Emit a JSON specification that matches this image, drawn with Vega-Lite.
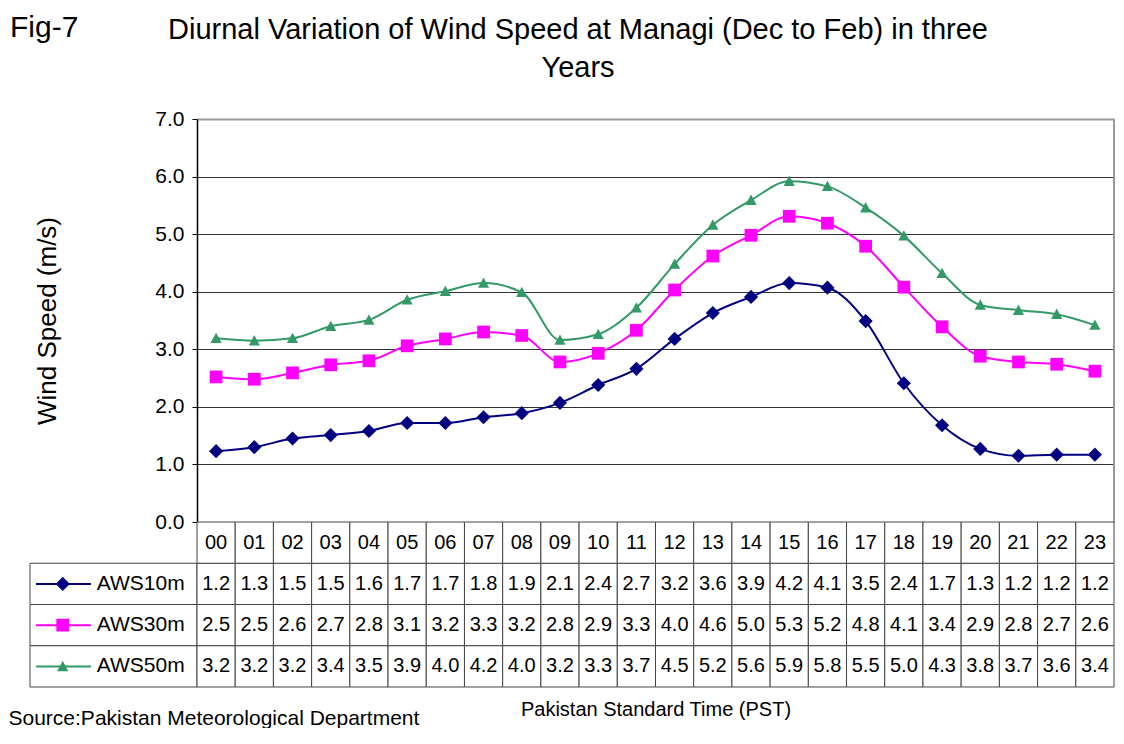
{
  "$schema": "https://vega.github.io/schema/vega-lite/v6.json",
  "padding": {"left": 8, "top": 13, "right": 0, "bottom": 0},
  "config": {
    "font": "Liberation Sans",
    "view": {"stroke": null},
    "axisX": {"domain": false, "ticks": false, "labels": false, "grid": false},
    "title": {"color": "#000", "fontWeight": "normal"}
  },
  "datasets": {
    "d": [
      {"hour": "00", "series": "AWS10m", "v": 1.23, "t": "1.2"},
      {"hour": "01", "series": "AWS10m", "v": 1.30, "t": "1.3"},
      {"hour": "02", "series": "AWS10m", "v": 1.45, "t": "1.5"},
      {"hour": "03", "series": "AWS10m", "v": 1.51, "t": "1.5"},
      {"hour": "04", "series": "AWS10m", "v": 1.58, "t": "1.6"},
      {"hour": "05", "series": "AWS10m", "v": 1.72, "t": "1.7"},
      {"hour": "06", "series": "AWS10m", "v": 1.72, "t": "1.7"},
      {"hour": "07", "series": "AWS10m", "v": 1.82, "t": "1.8"},
      {"hour": "08", "series": "AWS10m", "v": 1.89, "t": "1.9"},
      {"hour": "09", "series": "AWS10m", "v": 2.07, "t": "2.1"},
      {"hour": "10", "series": "AWS10m", "v": 2.38, "t": "2.4"},
      {"hour": "11", "series": "AWS10m", "v": 2.66, "t": "2.7"},
      {"hour": "12", "series": "AWS10m", "v": 3.18, "t": "3.2"},
      {"hour": "13", "series": "AWS10m", "v": 3.63, "t": "3.6"},
      {"hour": "14", "series": "AWS10m", "v": 3.91, "t": "3.9"},
      {"hour": "15", "series": "AWS10m", "v": 4.15, "t": "4.2"},
      {"hour": "16", "series": "AWS10m", "v": 4.07, "t": "4.1"},
      {"hour": "17", "series": "AWS10m", "v": 3.49, "t": "3.5"},
      {"hour": "18", "series": "AWS10m", "v": 2.41, "t": "2.4"},
      {"hour": "19", "series": "AWS10m", "v": 1.68, "t": "1.7"},
      {"hour": "20", "series": "AWS10m", "v": 1.27, "t": "1.3"},
      {"hour": "21", "series": "AWS10m", "v": 1.15, "t": "1.2"},
      {"hour": "22", "series": "AWS10m", "v": 1.17, "t": "1.2"},
      {"hour": "23", "series": "AWS10m", "v": 1.17, "t": "1.2"},
      {"hour": "00", "series": "AWS30m", "v": 2.52, "t": "2.5"},
      {"hour": "01", "series": "AWS30m", "v": 2.48, "t": "2.5"},
      {"hour": "02", "series": "AWS30m", "v": 2.59, "t": "2.6"},
      {"hour": "03", "series": "AWS30m", "v": 2.73, "t": "2.7"},
      {"hour": "04", "series": "AWS30m", "v": 2.80, "t": "2.8"},
      {"hour": "05", "series": "AWS30m", "v": 3.06, "t": "3.1"},
      {"hour": "06", "series": "AWS30m", "v": 3.18, "t": "3.2"},
      {"hour": "07", "series": "AWS30m", "v": 3.30, "t": "3.3"},
      {"hour": "08", "series": "AWS30m", "v": 3.24, "t": "3.2"},
      {"hour": "09", "series": "AWS30m", "v": 2.78, "t": "2.8"},
      {"hour": "10", "series": "AWS30m", "v": 2.93, "t": "2.9"},
      {"hour": "11", "series": "AWS30m", "v": 3.33, "t": "3.3"},
      {"hour": "12", "series": "AWS30m", "v": 4.03, "t": "4.0"},
      {"hour": "13", "series": "AWS30m", "v": 4.62, "t": "4.6"},
      {"hour": "14", "series": "AWS30m", "v": 4.98, "t": "5.0"},
      {"hour": "15", "series": "AWS30m", "v": 5.31, "t": "5.3"},
      {"hour": "16", "series": "AWS30m", "v": 5.19, "t": "5.2"},
      {"hour": "17", "series": "AWS30m", "v": 4.79, "t": "4.8"},
      {"hour": "18", "series": "AWS30m", "v": 4.08, "t": "4.1"},
      {"hour": "19", "series": "AWS30m", "v": 3.39, "t": "3.4"},
      {"hour": "20", "series": "AWS30m", "v": 2.88, "t": "2.9"},
      {"hour": "21", "series": "AWS30m", "v": 2.78, "t": "2.8"},
      {"hour": "22", "series": "AWS30m", "v": 2.74, "t": "2.7"},
      {"hour": "23", "series": "AWS30m", "v": 2.62, "t": "2.6"},
      {"hour": "00", "series": "AWS50m", "v": 3.19, "t": "3.2"},
      {"hour": "01", "series": "AWS50m", "v": 3.15, "t": "3.2"},
      {"hour": "02", "series": "AWS50m", "v": 3.19, "t": "3.2"},
      {"hour": "03", "series": "AWS50m", "v": 3.40, "t": "3.4"},
      {"hour": "04", "series": "AWS50m", "v": 3.51, "t": "3.5"},
      {"hour": "05", "series": "AWS50m", "v": 3.86, "t": "3.9"},
      {"hour": "06", "series": "AWS50m", "v": 4.01, "t": "4.0"},
      {"hour": "07", "series": "AWS50m", "v": 4.15, "t": "4.2"},
      {"hour": "08", "series": "AWS50m", "v": 3.99, "t": "4.0"},
      {"hour": "09", "series": "AWS50m", "v": 3.16, "t": "3.2"},
      {"hour": "10", "series": "AWS50m", "v": 3.26, "t": "3.3"},
      {"hour": "11", "series": "AWS50m", "v": 3.72, "t": "3.7"},
      {"hour": "12", "series": "AWS50m", "v": 4.48, "t": "4.5"},
      {"hour": "13", "series": "AWS50m", "v": 5.16, "t": "5.2"},
      {"hour": "14", "series": "AWS50m", "v": 5.59, "t": "5.6"},
      {"hour": "15", "series": "AWS50m", "v": 5.92, "t": "5.9"},
      {"hour": "16", "series": "AWS50m", "v": 5.83, "t": "5.8"},
      {"hour": "17", "series": "AWS50m", "v": 5.46, "t": "5.5"},
      {"hour": "18", "series": "AWS50m", "v": 4.97, "t": "5.0"},
      {"hour": "19", "series": "AWS50m", "v": 4.32, "t": "4.3"},
      {"hour": "20", "series": "AWS50m", "v": 3.77, "t": "3.8"},
      {"hour": "21", "series": "AWS50m", "v": 3.68, "t": "3.7"},
      {"hour": "22", "series": "AWS50m", "v": 3.61, "t": "3.6"},
      {"hour": "23", "series": "AWS50m", "v": 3.42, "t": "3.4"}
    ]
  },
  "bounds": "flush",
  "spacing": 0,
  "hconcat": [
    {
      "width": 167,
      "height": 568,
      "title": {"text": "Fig-7", "anchor": "start", "frame": "group", "dx": -20, "fontSize": 30, "offset": 76},
      "data": {"name": "d"},
      "transform": [{"filter": "datum.hour == '00'"}],
      "layer": [
        {
          "mark": {"type": "rect", "fill": "white", "stroke": "#444", "strokeWidth": 1},
          "encoding": {
            "x": {"datum": 0, "type": "quantitative", "scale": {"domain": [0, 1], "nice": false},
              "axis": {"title": "Source:Pakistan Meteorological Department", "titleAnchor": "start", "titleAlign": "left", "titleX": -22, "titleY": 31, "titleBaseline": "middle", "titleFontSize": 21, "titleFontWeight": "normal", "titleColor": "#000"}},
            "x2": {"datum": 1},
            "y": {"field": "series", "type": "nominal", "scale": {"type": "band", "domain": ["AWS10m", "AWS30m", "AWS50m"], "range": [444.25, 568], "paddingInner": 0, "paddingOuter": 0}, "axis": null}
          }
        },
        {
          "mark": {"type": "rule", "strokeWidth": 2},
          "encoding": {
            "x": {"datum": 0.036, "type": "quantitative"},
            "x2": {"datum": 0.365},
            "y": {"field": "series", "type": "nominal", "bandPosition": 0.5},
            "color": {"field": "series", "type": "nominal", "scale": {"domain": ["AWS10m", "AWS30m", "AWS50m"], "range": ["#000080", "#FF00FF", "#339966"]}, "legend": null}
          }
        },
        {
          "mark": {"type": "point", "filled": true, "opacity": 1},
          "encoding": {
            "x": {"datum": 0.196, "type": "quantitative"},
            "y": {"field": "series", "type": "nominal", "bandPosition": 0.5},
            "color": {"field": "series", "type": "nominal", "legend": null},
            "size": {"field": "series", "type": "nominal", "scale": {"domain": ["AWS10m", "AWS30m", "AWS50m"], "range": [200, 125, 230]}, "legend": null},
            "shape": {"field": "series", "type": "nominal", "scale": {"domain": ["AWS10m", "AWS30m", "AWS50m"], "range": ["diamond", "square", "M0,-1L1,0.85L-1,0.85Z"]}, "legend": null}
          }
        },
        {
          "mark": {"type": "text", "align": "left", "baseline": "middle", "fontSize": 21, "color": "#000"},
          "encoding": {
            "x": {"datum": 0.4, "type": "quantitative"},
            "y": {"field": "series", "type": "nominal", "bandPosition": 0.5},
            "text": {"field": "series"}
          }
        }
      ]
    },
    {
      "width": 917,
      "height": 568,
      "title": {"text": ["Diurnal Variation of Wind Speed at Managi (Dec to Feb) in three", "Years"], "anchor": "middle", "dx": -77.5, "fontSize": 29, "lineHeight": 38, "offset": 25},
      "data": {"name": "d"},
      "resolve": {"scale": {"y": "independent"}},
      "layer": [
        {
          "layer": [
            {
              "mark": {"type": "rule", "color": "#999", "strokeWidth": 2},
              "encoding": {
                "x": {"datum": "23", "type": "ordinal", "bandPosition": 1, "title": "Pakistan Standard Time (PST)"},
                "y": {"datum": 0, "type": "quantitative"},
                "y2": {"datum": 7}
              }
            },
            {
              "mark": {"type": "line", "interpolate": "monotone", "strokeWidth": 2},
              "encoding": {
                "x": {"field": "hour", "type": "ordinal", "title": "Pakistan Standard Time (PST)"},
                "y": {"field": "v", "type": "quantitative",
                  "scale": {"domain": [0, 7], "nice": false, "range": [403, 0]},
                  "axis": {"values": [0, 1, 2, 3, 4, 5, 6, 7], "format": ".1f", "labelFontSize": 21, "labelColor": "#000", "labelPadding": 8, "tickSize": 5, "tickColor": "#000", "domainColor": "#000", "domainWidth": 1.5, "grid": true,
                    "gridColor": {"condition": {"test": "datum.value == 7", "value": "#999"}, "value": "#333"},
                    "gridWidth": {"condition": {"test": "datum.value == 7", "value": 2}, "value": 1},
                    "title": "Wind Speed (m/s)", "titleFontSize": 26, "titleFontWeight": "normal", "titleColor": "#000", "titlePadding": 94}},
                "color": {"field": "series", "type": "nominal", "legend": null}
              }
            },
            {
              "mark": {"type": "point", "filled": true, "opacity": 1},
              "encoding": {
                "x": {"field": "hour", "type": "ordinal", "title": "Pakistan Standard Time (PST)"},
                "y": {"field": "v", "type": "quantitative"},
                "color": {"field": "series", "type": "nominal", "legend": null},
                "size": {"field": "series", "type": "nominal", "legend": null},
                "shape": {"field": "series", "type": "nominal", "legend": null}
              }
            }
          ]
        },
        {
          "layer": [
            {
              "mark": {"type": "rect", "fill": "white", "stroke": "#444", "strokeWidth": 1},
              "encoding": {
                "x": {"field": "hour", "type": "ordinal", "scale": {"type": "band", "paddingInner": 0, "paddingOuter": 0},
                  "axis": {"title": "Pakistan Standard Time (PST)", "titleFontSize": 20, "titleFontWeight": "normal", "titleColor": "#000", "titlePadding": 12}},
                "y": {"field": "series", "type": "nominal", "scale": {"type": "band", "domain": ["hour", "AWS10m", "AWS30m", "AWS50m"], "range": [403, 568], "paddingInner": 0, "paddingOuter": 0}, "axis": null}
              }
            },
            {
              "transform": [{"filter": "datum.series == 'AWS10m'"}],
              "mark": {"type": "rect", "fill": "white", "stroke": "#444", "strokeWidth": 1},
              "encoding": {
                "x": {"field": "hour", "type": "ordinal", "title": "Pakistan Standard Time (PST)"},
                "y": {"datum": "hour", "type": "nominal"}
              }
            },
            {
              "mark": {"type": "text", "fontSize": 20, "baseline": "middle", "color": "#000"},
              "encoding": {
                "x": {"field": "hour", "type": "ordinal", "title": "Pakistan Standard Time (PST)"},
                "y": {"field": "series", "type": "nominal", "bandPosition": 0.5},
                "text": {"field": "t"}
              }
            },
            {
              "transform": [{"filter": "datum.series == 'AWS10m'"}],
              "mark": {"type": "text", "fontSize": 20, "baseline": "middle", "color": "#000"},
              "encoding": {
                "x": {"field": "hour", "type": "ordinal", "title": "Pakistan Standard Time (PST)"},
                "y": {"datum": "hour", "type": "nominal", "bandPosition": 0.5},
                "text": {"field": "hour"}
              }
            }
          ]
        }
      ]
    }
  ]
}
